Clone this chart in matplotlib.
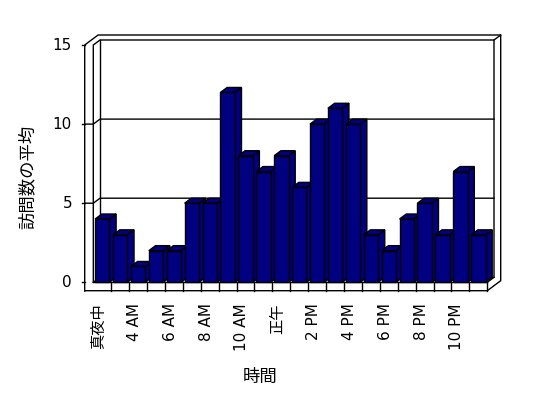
import numpy as np
import matplotlib
matplotlib.use('Agg')
import matplotlib.pyplot as plt
from matplotlib.patches import Polygon

hours = ['真夜中', '1 AM', '4 AM', '5 AM', '6 AM', '7 AM', '8 AM', '9 AM', '10 AM', '11 AM',
         '正午', '1 PM', '2 PM', '3 PM', '4 PM', '5 PM', '6 PM', '7 PM', '8 PM', '9 PM',
         '10 PM', '11 PM']
visits = [4, 3, 1, 2, 2, 5, 5, 12, 8, 7, 8, 6, 10, 11, 10, 3, 2, 4, 5, 3, 7, 3]
yticks = [0, 5, 10, 15]

plt.rcParams['font.family'] = ['DejaVu Sans', 'Noto Sans CJK JP']

W, H = 548, 398
fig = plt.figure(figsize=(W / 100, H / 100), dpi=100)
ax = fig.add_axes([0, 0, 1, 1])
ax.axis('off')

n = len(visits)
ymax = yticks[-1]
# front plane of the plot in pixels
left_px, right_px = 93.3, 487.3
base_px, top_px = 282.3, 45.0
P = (right_px - left_px) / n
S = (base_px - top_px) / ymax
ax.set_xlim(-0.5 - left_px / P, -0.5 + (W - left_px) / P)
ax.set_ylim((base_px - H) / S, base_px / S)

DX, DY = 6.7 / P, 5.0 / S      # depth of the plot box
WX = 8.6 / P                   # left wall thickness
FY = 8.4 / S                   # floor thickness
x0, x1 = -0.5, n - 0.5

def seg(xs, ys, z=2):
    ax.plot(xs, ys, color='black', lw=1, solid_capstyle='projecting', zorder=z)

# outer frame
seg([x0 - WX, x0 - WX, x0 - WX + 2 * DX, x1 + 2 * DX, x1 + 2 * DX, x1, x0 - WX],
    [-FY, ymax, ymax + 2 * DY, ymax + 2 * DY, -FY + 2 * DY, -FY, -FY])
seg([x1, x1], [-FY, 0])
seg([x0, x1], [0, 0])
# left wall inner face and back wall
seg([x0, x0, x0 + DX, x1 + DX, x1 + DX], [0, ymax, ymax + DY, ymax + DY, DY])
seg([x0 + DX, x0 + DX], [DY, ymax + DY])
seg([x1 + DX, x1 + 2 * DX], [ymax + DY, ymax + 2 * DY])
# floor
seg([x0, x0 + DX, x1 + DX, x1], [0, DY, DY, 0])
for k in range(1, n):
    seg([x0 + k, x0 + k], [-FY, 0])

# gridlines and ticks
stub = 3.0 / P
for v in yticks:
    seg([x0 - WX - stub, x0 - WX], [v, v])
    if 0 < v < ymax:
        seg([x0 - WX, x0, x0 + DX, x1 + DX], [v, v, v + DY, v + DY])
    ax.text(x0 - WX - 12.7 / P, v, str(v), ha='right', va='center', fontsize=11)

# 3d bars
xs = np.arange(n)
bw = 0.8
bars = ax.bar(xs, visits, width=bw, color='#000080', edgecolor='black', lw=1)
for i, (rect, h) in enumerate(zip(bars, visits)):
    rect.set_zorder(10 + 3 * i + 2)
    a, b = i - bw / 2, i + bw / 2
    side = Polygon([(b, 0), (b + DX, DY), (b + DX, h + DY), (b, h)],
                   facecolor='#000080', edgecolor='black', lw=1, zorder=10 + 3 * i)
    top = Polygon([(a, h), (a + DX, h + DY), (b + DX, h + DY), (b, h)],
                  facecolor='#000080', edgecolor='black', lw=1, zorder=10 + 3 * i + 1)
    ax.add_patch(side)
    ax.add_patch(top)

# category labels, every other one
for i in range(0, n, 2):
    ax.text(i - 0.2, -FY - 12.5 / S, hours[i], rotation=90, ha='center', va='top',
            fontsize=11)

ax.text(x0 + (260 - left_px) / P, (base_px - 377) / S, '時間', ha='center', va='center',
        fontsize=12.5)
ax.text(x0 + (28 - left_px) / P, (base_px - 177) / S, '訪問数の平均', rotation=90,
        ha='center', va='center', fontsize=12.5)

fig.savefig('out.png', dpi=100)
